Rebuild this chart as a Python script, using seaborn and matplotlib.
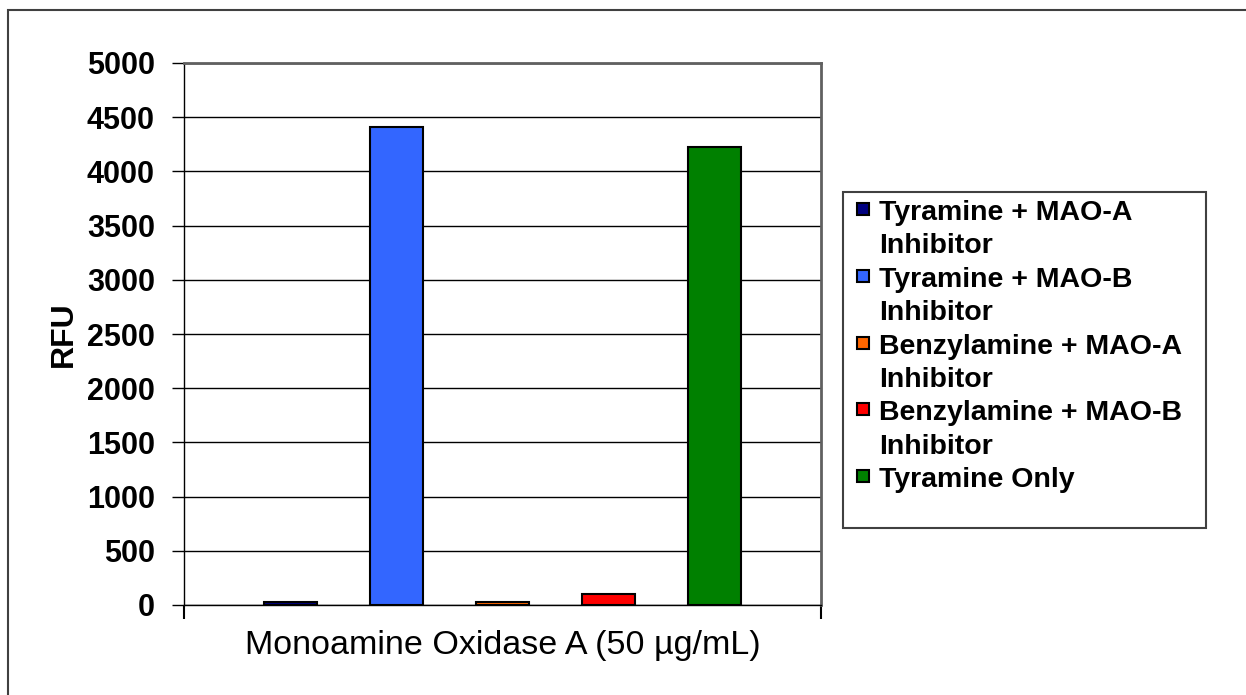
import numpy as np
import pandas as pd
import matplotlib
matplotlib.use("Agg")
from matplotlib import pyplot as plt
from matplotlib.patches import Rectangle
import seaborn as sns

# data
sample = "Monoamine Oxidase A (50 \u00b5g/mL)"
conditions = ["Tyramine + MAO-A\nInhibitor", "Tyramine + MAO-B\nInhibitor",
              "Benzylamine + MAO-A\nInhibitor", "Benzylamine + MAO-B\nInhibitor",
              "Tyramine Only"]
rfu = [30, 4410, 25, 105, 4225]
colors = ["#000080", "#3366FF", "#FF6600", "#FF0000", "#008000"]
yticks = [0, 500, 1000, 1500, 2000, 2500, 3000, 3500, 4000, 4500, 5000]

df = pd.DataFrame({"sample": [sample] * len(conditions), "condition": conditions, "rfu": rfu})

sns.set_style("white")
plt.rcParams["font.family"] = ["Liberation Sans", "DejaVu Sans"]
plt.rcParams["text.color"] = "black"
plt.rcParams["xtick.color"] = "black"
plt.rcParams["ytick.color"] = "black"
plt.rcParams["axes.labelcolor"] = "black"

W, H = 1246, 695
fig = plt.figure(figsize=(W / 100, H / 100), dpi=100)
ax = fig.add_axes([184 / W, 1 - 605 / H, (821 - 184) / W, (605 - 63) / H])

sns.barplot(data=df, x="sample", y="rfu", hue="condition", palette=colors, saturation=1,
            width=0.8, gap=0.5, edgecolor="black", linewidth=1.5,
            errorbar=None, legend=False, ax=ax, zorder=3)

ax.set_ylim(0, 5000)
ax.set_xlim(-0.4815, 0.4815)
ax.set_yticks(yticks)
ax.set_yticklabels([str(t) for t in yticks], fontsize=22, fontweight="bold")
ax.yaxis.grid(True, color="black", linewidth=1)
ax.set_axisbelow(True)
ax.tick_params(axis="y", direction="out", length=9, width=1, pad=12, left=True)
ax.tick_params(axis="x", which="major", length=0, pad=18, labelsize=24.5)
ax.set_xticks([-0.4815, 0.4815], minor=True)
ax.tick_params(axis="x", which="minor", direction="out", length=10, width=1.5, bottom=True)
ax.set_xlabel("")
ax.set_ylabel("RFU", fontsize=23, fontweight="bold", labelpad=6)

for side in ["left", "bottom"]:
    ax.spines[side].set_color("black")
    ax.spines[side].set_linewidth(1)
for side in ["top", "right"]:
    ax.spines[side].set_color("#606060")
    ax.spines[side].set_linewidth(2)

# legend drawn by hand (Excel-style: swatch on the first line of each entry)
fig.add_artist(Rectangle((843 / W, 1 - 528 / H), (1206 - 843) / W, (528 - 192) / H,
                         transform=fig.transFigure, fill=False, edgecolor="#404040", linewidth=1.5))
line = 0
for c, lab in zip(colors, conditions):
    base = 220 + 33.4 * line
    fig.add_artist(Rectangle((857 / W, 1 - (base - 5) / H), 12 / W, 12 / H,
                             transform=fig.transFigure, facecolor=c, edgecolor="black", linewidth=1.5))
    for part in lab.split("\n"):
        fig.text(879 / W, 1 - (220 + 33.4 * line) / H, part, fontsize=20.5, fontweight="bold",
                 va="baseline", ha="left")
        line += 1

# outer chart border (only left/top visible in reference)
fig.add_artist(Rectangle((8 / W, -0.2), 1.5, 1 - 10 / H + 0.2,
                         transform=fig.transFigure, fill=False, edgecolor="#404040", linewidth=1.5))

plt.savefig("out.png", dpi=100)
plt.close()
